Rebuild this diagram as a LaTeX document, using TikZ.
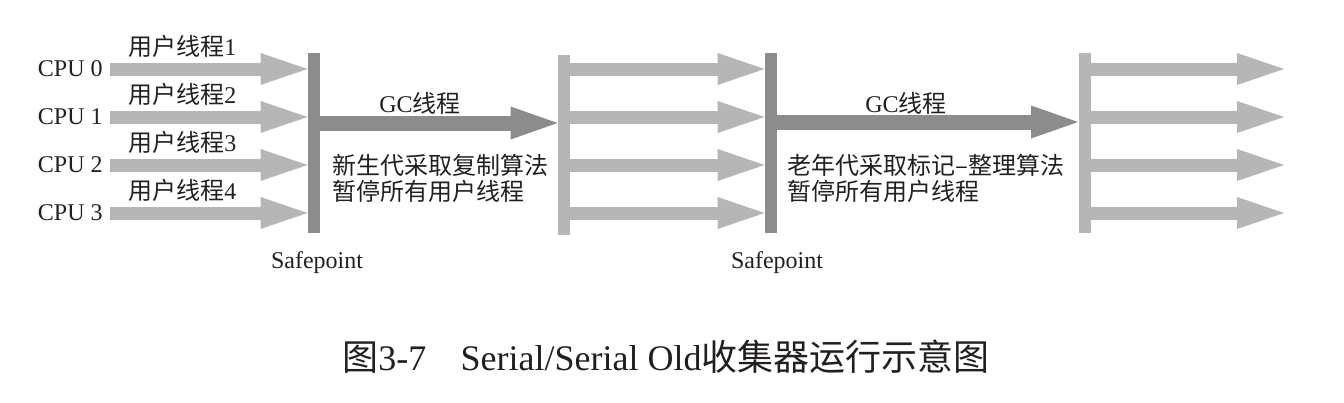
\documentclass[tikz,border=0pt]{standalone}
\usepackage{fontspec}
\setmainfont{Liberation Serif}
\newfontfamily\cjk{Noto Sans CJK SC}
\usetikzlibrary{arrows.meta}
\definecolor{sgdark}{HTML}{8C8C8E}
\definecolor{sglight}{HTML}{B6B6B9}
\definecolor{sgink}{HTML}{231F20}

\tikzset{sgbar/.style={rectangle,fill=#1,inner sep=0pt,minimum width=6pt,minimum height=90pt},
         sgarr/.style={draw=sglight,line width=6.5pt,-{Triangle[length=23.5pt,width=16pt,line width=0pt,fill=sglight]}},
         sggc/.style={draw=sgdark,line width=7.5pt,-{Triangle[length=23.5pt,width=16.5pt,line width=0pt,fill=sgdark]}},
         sgtxt/.style={inner sep=0pt,text=sgink,font=\fontsize{12pt}{13pt}\selectfont},
         sgnote/.style={sgtxt,anchor=west,align=left,font=\cjk\fontsize{12pt}{13pt}\selectfont}}

\begin{document}
\begin{tikzpicture}[x=0.5pt,y=-0.5pt]
    \useasboundingbox (0,0) rectangle (1344,402);
    % bars: safepoints (dark) and resumed threads (light)
    \node[sgbar=sgdark] (sp1) at (314,143) {};
    \node[sgbar=sglight] (mid) at (564,145) {};
    \node[sgbar=sgdark] (sp2) at (771,143) {};
    \node[sgbar=sglight] (end) at (1084.5,143) {};
    \foreach \n/\y in {0/69,1/117,2/165,3/213}
      {\pgfmathtruncatemacro\m{\n+1}
       \node[sgtxt,anchor=east] (cpu\n) at (103,\y) {CPU \n};
       \node[sgtxt,anchor=west] (usr\n) at (128,\y-23) {{\cjk 用户线程}\m};
       \coordinate (out\n) at (1284,\y);
       \draw[sgarr] ([xshift=3.5pt]cpu\n.east) -- (cpu\n -| sp1.west);
       \draw[sgarr] (mid.east |- cpu\n) -- (cpu\n -| sp2.west);
       \draw[sgarr] (end.east |- cpu\n) -- (out\n);}
    % GC threads
    \draw[sggc] ([yshift=10pt]sp1.east) -- ([yshift=10pt]sp1.east -| mid.west);
    \draw[sggc] ([yshift=10.5pt]sp2.east) -- ([yshift=10.5pt]sp2.east -| end.west);
    \node[sgtxt] (gc1) at (420,103) {GC{\cjk 线程}};
    \node[sgtxt] (gc2) at (906,103) {GC{\cjk 线程}};
    \node[sgnote] (note1) at (332,178) {新生代采取复制算法\\暂停所有用户线程};
    \node[sgnote] (note2) at (787,178) {老年代采取标记–整理算法\\暂停所有用户线程};
    \node[sgtxt] (safe1) at (317,263) {Safepoint};
    \node[sgtxt] (safe2) at (777,263) {Safepoint};
    % caption
    \node[sgtxt,font=\fontsize{18pt}{20pt}\selectfont] (cap) at (666,357)
      {{\cjk 图}3-7\hspace{0.95em}Serial/Serial Old{\cjk 收集器运行示意图}};
  \end{tikzpicture}
\end{document}
